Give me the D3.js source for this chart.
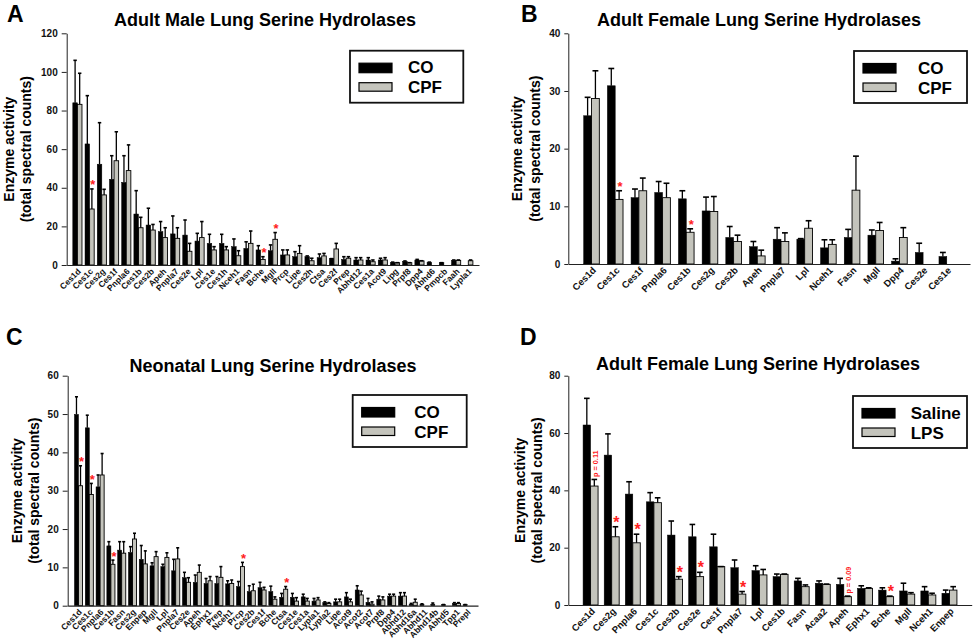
<!DOCTYPE html>
<html><head><meta charset="utf-8">
<script src="https://cdn.jsdelivr.net/npm/d3@7"></script>
<style>
body{margin:0;background:#fff;}
svg{display:block;font-family:"Liberation Sans",Arial,sans-serif;}
</style>
</head><body>
<svg id="chart" width="975" height="643"></svg>
<script>
// ---------- Panel A: Adult Male Lung ----------
const catsA = ["Ces1d","Ces1c","Ces2g","Ces1f","Pnpla6","Ces1b","Ces2b","Apeh","Pnpla7","Ces2e","Lpl","Ces1e","Ces1h","Nceh1","Fasn","Bche","Mgll","Prcp","Lipe","Ces2h","Ctsa","Ces2f","Prep","Abhd12","Ces1a","Acot9","Lipg","Prpf8","Dpp4","Abhd6","Pmpcb","Faah","Lypla1"];
const coA     = [84,62.7,52.2,44.4,42.8,26.4,20.7,17.3,16.1,15.5,12.4,11.2,11.2,9.5,8.6,7.8,7.4,5.2,4.3,4.3,3.8,3.3,2.9,2.6,2.6,2.6,1.2,1.9,2.6,1.4,1.2,2.4,0];
const coErrA  = [22,25,21.5,12.2,13.8,12.1,8.7,5.2,9.3,7.8,4,4.7,4.7,4,3.4,2.2,3,2.6,2.6,0.4,1.9,0,1.4,1.2,1.2,0.9,0.3,0.2,0.3,0.1,0,0.2,0];
const cpfA    = [83.2,29,36.3,54,48.9,19.3,18.1,14.2,13.8,7.1,14.2,7.8,7.8,4.8,11.2,2.9,13.3,5.2,6,2.2,4.7,8.3,3.5,2.6,1.7,2.6,1.2,1.2,2.1,0,0,2.4,2.2];
const cpfErrA = [16.1,10.4,2.9,15,13.3,5.4,2.9,5.1,5.5,4.1,8.3,1.7,1.7,2.6,6.4,1.4,3.5,2.6,4,1.3,1.3,2.9,0.8,1.2,0.9,1.2,0,0,0.1,0,0,0.2,0.4];
const starsA  = ["Ces1c","Bche","Mgll"];
const ticksA  = [0,20,40,60,80,100,120];

// ---------- Panel B: Adult Female Lung (CO/CPF) ----------
const catsB = ["Ces1d","Ces1c","Ces1f","Pnpla6","Ces1b","Ces2g","Ces2b","Apeh","Pnpla7","Lpl","Nceh1","Fasn","Mgll","Dpp4","Ces2e","Ces1e"];
const coB     = [25.7,30.9,11.5,12.4,11.3,9.2,4.6,3.0,4.3,4.3,2.8,4.6,5.0,0.5,2.0,1.3];
const coErrB  = [3.2,3.0,1.5,1.9,1.4,2.4,1.9,0.9,2.0,0.1,1.4,1.4,0.9,0.4,1.6,0.7];
const cpfB    = [28.7,11.2,12.7,11.5,5.5,9.1,3.9,1.4,3.9,6.2,3.4,12.8,5.8,4.6,0,0];
const cpfErrB = [4.8,1.5,2.2,2.5,0.6,2.6,1.1,1.0,1.5,1.3,0.8,5.9,1.4,1.7,0,0];
const starsB  = ["Ces1c","Ces1b"];
const ticksB  = [0,10,20,30,40];

// ---------- Panel C: Neonatal Lung ----------
const catsC = ["Ces1d","Ces1c","Pnpla6","Ces1b","Fasn","Ces2g","Enpep","Mgll","Lpl","Pnpla7","Ces2e","Apeh","Ephx1","Prep","Nceh1","Prcp","Ces2b","Ces1f","Bche","Ctsa","Ces1e","Ces1a","Lypla1","Lypla2","Lipe","Acot9","Acot2","Acot7","Prpf8","Dpp4","Abhd12","Abhd16a","Abhd11","Abhd14b","Abhd5","Tpp1","Prepl"];
const coC     = [49.9,46.4,31.0,15.6,14.5,13.9,12.1,10.4,10.2,9.1,7.3,6.1,5.8,5.8,5.7,5.0,3.7,4.7,3.7,2.2,2.2,2.3,1.2,0.8,1.0,2.3,4.1,0.9,1.7,2.5,2.5,0.4,0.4,0.4,0.3,0.6,0.3];
const coErrC  = [4.6,3.3,3.1,1.1,2.2,1.5,3.6,0.8,0.6,3.0,1.4,1.9,1.3,1.8,0.8,1.3,1.5,1.4,1.4,1.0,1.0,0.7,0.7,0.2,0.7,1.1,1.1,1.0,0.8,0.5,0.9,0.2,0.1,0.3,0,0.2,0];
const cpfC    = [31.3,29.0,34.1,10.8,13.7,17.4,10.9,12.8,12.6,12.2,6.1,8.7,6.5,7.4,5.8,10.2,3.9,4.1,1.7,4.3,1.2,1.2,1.5,0.6,1.0,1.0,2.8,0.4,1.5,2.5,2.5,0.9,0,0,0,0.6,0];
const cpfErrC = [5.2,2.9,5.6,1.1,3.0,1.5,3.4,1.3,1.2,2.9,1.2,1.9,1.1,2.8,0.9,1.1,1.7,0.7,0.6,0.7,0.9,0.7,0.6,0.2,0.7,0.7,1.0,0.6,0.8,0.5,0.9,0.8,0,0,0,0.2,0];
const starsC  = ["Ces1d","Ces1c","Ces1b","Prcp","Ctsa"];
const ticksC  = [0,10,20,30,40,50,60];

// ---------- Panel D: Adult Female Lung (Saline/LPS) ----------
const catsD = ["Ces1d","Ces2g","Pnpla6","Ces1c","Ces2b","Ces2e","Ces1f","Pnpla7","Lpl","Ces1b","Fasn","Acaa2","Apeh","Ephx1","Bche","Mgll","Nceh1","Enpep"];
const salineD    = [62.8,52.3,38.7,36.0,24.4,23.8,20.3,13.0,12.0,9.9,8.4,7.6,7.2,5.8,5.2,4.9,4.9,4.1];
const salineErrD = [9.3,7.4,4.3,3.2,4.9,4.3,4.4,2.7,1.7,0.9,0.9,0.8,2.1,0.9,0.8,2.7,1.5,1.1];
const lpsD       = [41.5,23.8,21.7,35.7,9.0,9.9,13.4,3.8,10.5,10.7,6.4,7.2,2.9,5.8,2.9,3.8,3.5,5.2];
const lpsErrD    = [2.3,3.5,3.0,1.7,0.9,1.5,0,0.9,1.9,0.1,0.6,0.1,0.2,0.2,0.2,0.5,0.6,1.2];
const starsD     = ["Ces2g","Pnpla6","Ces2b","Ces2e","Pnpla7","Bche"];
const pCatsD     = ["Ces1d","Apeh"];
const pTextsD    = ["p = 0.11","p = 0.09"];
const ticksD     = [0,20,40,60,80];

const seriesCO  = ["CO","CPF"];
const seriesLPS = ["Saline","LPS"];
const colors = ["#000000","#c4c4bc"];

const svg = d3.select("#chart");

function panel(cfg){
  const g = svg.append("g");
  const y = d3.scaleLinear().domain([0,cfg.yMax]).range([cfg.yBot,cfg.yTop]);
  const x = d3.scaleBand().domain(cfg.cats).range([cfg.x0,cfg.x1]).paddingInner(cfg.pi).paddingOuter(cfg.po);
  const sub = d3.scaleBand().domain([0,1]).range([0,x.bandwidth()]);
  const rows = cfg.cats.map((c,i)=>({cat:c, v:[cfg.a[i],cfg.b[i]], e:[cfg.ae[i],cfg.be[i]]}));
  const items = [];
  rows.forEach(r=>{[0,1].forEach(k=>items.push({cat:r.cat,k,v:r.v[k],e:r.e[k]}));});

  // y axis
  const ya = g.append("g").attr("transform",`translate(${cfg.x0},0)`)
    .call(d3.axisLeft(y).tickValues(cfg.ticks).tickSize(cfg.tickLen).tickSizeOuter(0).tickPadding(cfg.tickPad));
  ya.select(".domain").attr("stroke","#222");
  ya.selectAll(".tick line").attr("stroke","#222");
  ya.selectAll(".tick text").attr("font-size",10).attr("font-weight","bold").attr("fill","#111")
    .attr("font-family",'"Liberation Sans",Arial,sans-serif');

  // bars
  g.selectAll("rect.bar").data(items.filter(d=>d.v>0)).join("rect")
    .attr("x",d=>x(d.cat)+sub(d.k)).attr("width",sub.bandwidth())
    .attr("y",d=>y(d.v)).attr("height",d=>y(0)-y(d.v))
    .attr("fill",d=>colors[d.k]).attr("stroke","#000").attr("stroke-width",d=>d.k?0.9:0.5);

  // error bars
  const eb = items.filter(d=>d.v>0);
  const cw = Math.min(sub.bandwidth()*0.75, 6);
  g.selectAll("line.ev").data(eb).join("line")
    .attr("x1",d=>x(d.cat)+sub(d.k)+sub.bandwidth()/2).attr("x2",d=>x(d.cat)+sub(d.k)+sub.bandwidth()/2)
    .attr("y1",d=>y(d.v)).attr("y2",d=>y(d.v+d.e)).attr("stroke","#000").attr("stroke-width",1.3);
  g.selectAll("line.ec").data(eb).join("line")
    .attr("x1",d=>x(d.cat)+sub(d.k)+sub.bandwidth()/2-cw/2).attr("x2",d=>x(d.cat)+sub(d.k)+sub.bandwidth()/2+cw/2)
    .attr("y1",d=>y(d.v+d.e)).attr("y2",d=>y(d.v+d.e)).attr("stroke","#000").attr("stroke-width",1.6);

  // x axis
  const xa = g.append("g").attr("transform",`translate(0,${cfg.yBot})`)
    .call(d3.axisBottom(x).tickSize(0).tickSizeOuter(0));
  xa.select(".domain").attr("stroke","#222").attr("stroke-width",1.2);
  xa.selectAll(".tick text").attr("y",0).attr("dy",0)
    .attr("transform",`translate(${cfg.lblDx},${cfg.lblDy}) rotate(-45)`)
    .attr("text-anchor","end").attr("font-size",cfg.lblSize).attr("font-weight","bold").attr("fill","#111")
    .attr("font-family",'"Liberation Sans",Arial,sans-serif');

  // stars
  const rowByCat = new Map(rows.map(r=>[r.cat,r]));
  g.selectAll("text.star").data(cfg.stars).join("text")
    .attr("x",c=>x(c)+sub(1)+sub.bandwidth()/2+1)
    .attr("y",c=>{const r=rowByCat.get(c); return y(r.v[1]+r.e[1])+cfg.starDy;})
    .attr("text-anchor","middle").attr("fill","#ff2020").attr("font-size",cfg.starSize).attr("font-weight","bold")
    .text("*");

  // p-values
  if(cfg.pCats){
    cfg.pCats.forEach((c,i)=>{
      const r=rowByCat.get(c);
      const px = x(c)+sub(1)+sub.bandwidth()/2+3.5, py = y(r.v[1]+r.e[1])-2.5;
      g.append("text").attr("transform",`translate(${px},${py}) rotate(-90)`)
        .attr("fill","#ff2020").attr("font-size",7.3).attr("font-weight","bold").text(cfg.pTexts[i]);
    });
  }

  // titles
  g.append("text").attr("x",cfg.letterX).attr("y",cfg.letterY).attr("font-size",23).attr("font-weight","bold").text(cfg.letter);
  g.append("text").attr("x",cfg.titleX).attr("y",cfg.titleY).attr("text-anchor","middle")
    .attr("font-size",18).attr("font-weight","bold").text(cfg.title);
  const cy = (cfg.yTop+cfg.yBot)/2;
  g.append("text").attr("transform",`translate(${cfg.yt1},${cy}) rotate(-90)`).attr("text-anchor","middle")
    .attr("font-size",14).attr("font-weight","bold").text("Enzyme activity");
  g.append("text").attr("transform",`translate(${cfg.yt2},${cy}) rotate(-90)`).attr("text-anchor","middle")
    .attr("font-size",14).attr("font-weight","bold").text("(total spectral counts)");

  // legend
  const L = cfg.legend;
  const lg = g.append("g").attr("transform",`translate(${L.x},${L.y})`);
  lg.append("rect").attr("width",L.w).attr("height",52).attr("fill","#fff").attr("stroke","#111").attr("stroke-width",1.8);
  lg.selectAll("rect.sw").data(cfg.names).join("rect")
    .attr("x",9).attr("y",(d,i)=>i?32:12.5).attr("width",33).attr("height",(d,i)=>i?8.5:9.5)
    .attr("fill",(d,i)=>colors[i]).attr("stroke","#000").attr("stroke-width",1.2);
  lg.selectAll("text.lt").data(cfg.names).join("text")
    .attr("x",L.tx).attr("y",(d,i)=>i?42.5:22.5).attr("font-size",17).attr("font-weight","bold").text(d=>d);
}

panel({letter:"A",letterX:7,letterY:22,title:"Adult Male Lung Serine Hydrolases",titleX:265,titleY:26,
  cats:catsA,a:coA,ae:coErrA,b:cpfA,be:cpfErrA,stars:starsA,ticks:ticksA,yMax:120,
  x0:66.7,x1:479,yTop:33.3,yBot:265,pi:0.25,po:0.5,tickLen:5,tickPad:4,
  lblDx:4,lblDy:7,lblSize:8.5,starSize:13,starDy:0.5,yt1:13.5,yt2:31,
  names:seriesCO,legend:{x:350,y:50.7,w:113.3,tx:58}});

panel({letter:"B",letterX:521,letterY:22,title:"Adult Female Lung Serine Hydrolases",titleX:759,titleY:26,
  cats:catsB,a:coB,ae:coErrB,b:cpfB,be:cpfErrB,stars:starsB,ticks:ticksB,yMax:40,
  x0:568.3,x1:970,yTop:33.3,yBot:264,pi:0.34,po:0.65,tickLen:4,tickPad:4,
  lblDx:5,lblDy:7,lblSize:9.5,starSize:13,starDy:0.5,yt1:521.5,yt2:540,
  names:seriesCO,legend:{x:854,y:51,w:113,tx:64}});

panel({letter:"C",letterX:6,letterY:345,title:"Neonatal Lung Serine Hydrolases",titleX:273,titleY:371.5,
  cats:catsC,a:coC,ae:coErrC,b:cpfC,be:cpfErrC,stars:starsC,ticks:ticksC,yMax:60,
  x0:67.7,x1:478,yTop:375.7,yBot:605.7,pi:0.25,po:0.625,tickLen:5,tickPad:4,
  lblDx:4,lblDy:7,lblSize:8.5,starSize:13,starDy:0.5,yt1:22,yt2:38.5,
  names:seriesCO,legend:{x:352.7,y:395,w:114,tx:61.6}});

panel({letter:"D",letterX:520,letterY:345,title:"Adult Female Lung Serine Hydrolases",titleX:758,titleY:370,
  cats:catsD,a:salineD,ae:salineErrD,b:lpsD,be:lpsErrD,stars:starsD,ticks:ticksD,yMax:80,
  x0:568.3,x1:971.7,yTop:375.7,yBot:605,pi:0.29,po:0.7,tickLen:4,tickPad:4,
  lblDx:5,lblDy:7,lblSize:9.5,starSize:16,starDy:1,yt1:525,yt2:542,
  pCats:pCatsD,pTexts:pTextsD,
  names:seriesLPS,legend:{x:853,y:396,w:114,tx:57.7}});
</script>
</body></html>
